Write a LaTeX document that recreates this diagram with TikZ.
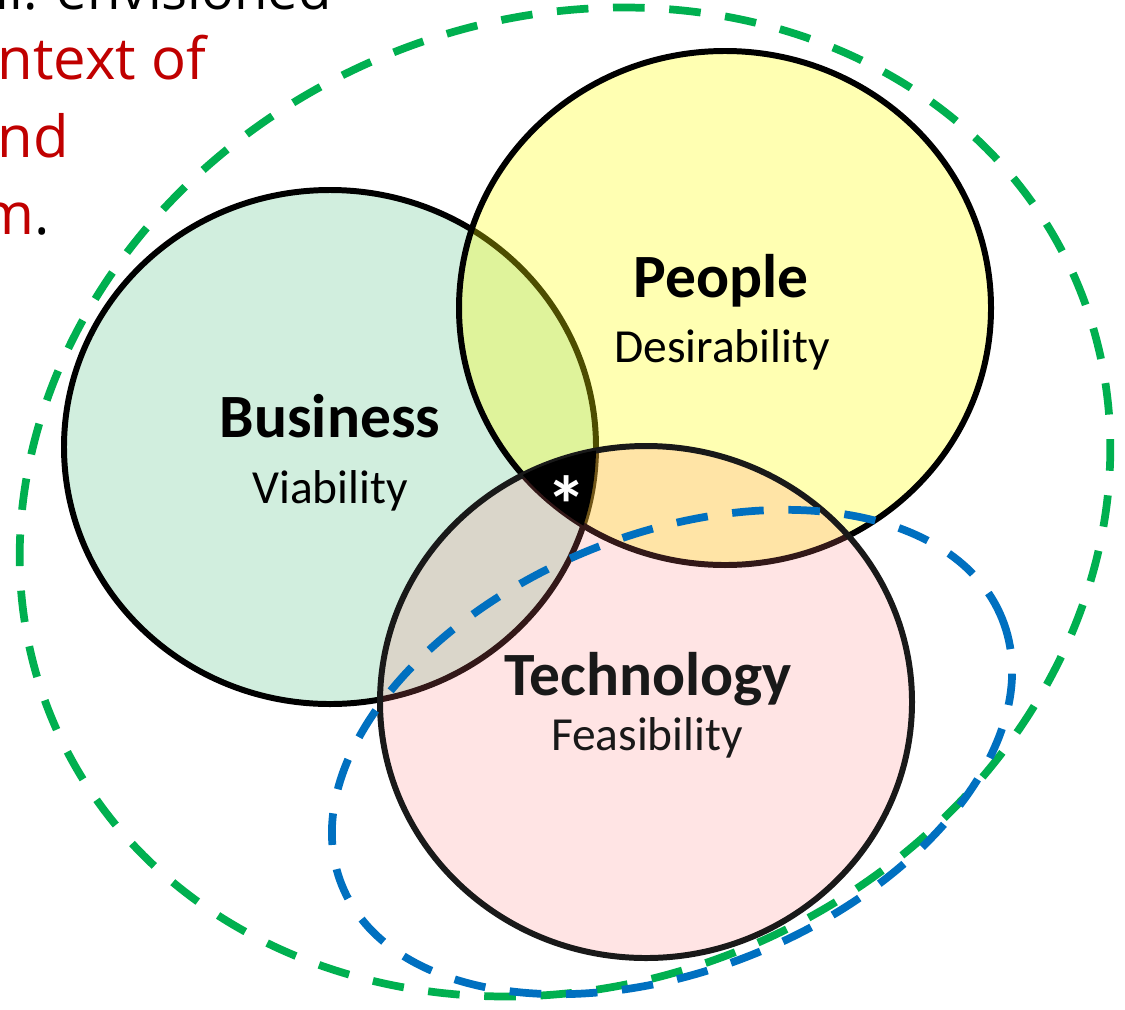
\documentclass[tikz,border=0pt]{standalone}
\usepackage{fontspec}
\setmainfont{Carlito}
\newfontfamily\notefont{Open Sans}
\usepackage{xcolor}
\usepackage{tikz}
\definecolor{bizgreen}{HTML}{00A04A}
\definecolor{pplyellow}{HTML}{FFFF00}
\definecolor{techred}{HTML}{FF7878}
\definecolor{outergreen}{HTML}{00B050}
\definecolor{innerblue}{HTML}{0070C0}
\definecolor{notered}{HTML}{C00000}

% the three sets, all the same size
\newcommand\bizpath{(330,447) ellipse [x radius=266, y radius=257]}
\newcommand\pplpath{(725,308) ellipse [x radius=266, y radius=257]}
\newcommand\techpath{(646,702) ellipse [x radius=266, y radius=256]}

\begin{document}
\begin{tikzpicture}[x=0.01cm,y=-0.01cm,
    venn/.style={line width=1.7pt},
    title/.style={anchor=base,inner sep=0pt,font=\bfseries\fontsize{17.5}{20}\selectfont},
    subtitle/.style={anchor=base,inner sep=0pt,font=\fontsize{13.5}{16}\selectfont},
    note/.style={anchor=base west,inner sep=0pt,font=\notefont\fontsize{16.5}{20}\selectfont},
    dashring/.style={line width=2.2pt,dash pattern=on 9pt off 7pt}]
  \useasboundingbox (0,0) rectangle (1125,1009);

  % text on the left, running off the page
  \node[note,font=\notefont\fontsize{15.5}{20}\selectfont] (n0) at (-5,9) {ll. envisioned};
  \node[note,text=notered] (n1) at (-3,79) {ntext of};
  \node[note,text=notered] (n2) at (-3,157) {nd};
  \node[note] (n3) at (-20,234) {\textcolor{notered}{m}.};

  % circles
  \filldraw[venn,fill=bizgreen,fill opacity=.18] \bizpath;
  \filldraw[venn,fill=pplyellow,fill opacity=.3] \pplpath;
  \filldraw[venn,draw=black!90,fill=techred,fill opacity=.2] \techpath;

  % where all three meet
  \begin{scope}
    \clip \bizpath;
    \clip \pplpath;
    \fill[black] \techpath;
  \end{scope}
  \node[text=white,font=\bfseries\fontsize{23}{23}\selectfont] (star) at (567,505) {*};

  \node[title] (biz) at (330,437) {Business};
  \node[subtitle] (bizsub) at (330,503) {Viability};
  \node[title] (ppl) at (721,297) {People};
  \node[subtitle] (pplsub) at (722,362) {Desirability};
  \node[title,text=black!90] (tech) at (648,695) {Technology};
  \node[subtitle,text=black!90] (techsub) at (647,750) {Feasibility};

  % dashed scopes
  \draw[dashring,outergreen,rotate around={24:(565,502)}] (565,502) ellipse [x radius=557, y radius=481];
  \draw[dashring,innerblue,rotate around={22:(672,752)}] (672,752) ellipse [x radius=356, y radius=218];
\end{tikzpicture}
\end{document}
